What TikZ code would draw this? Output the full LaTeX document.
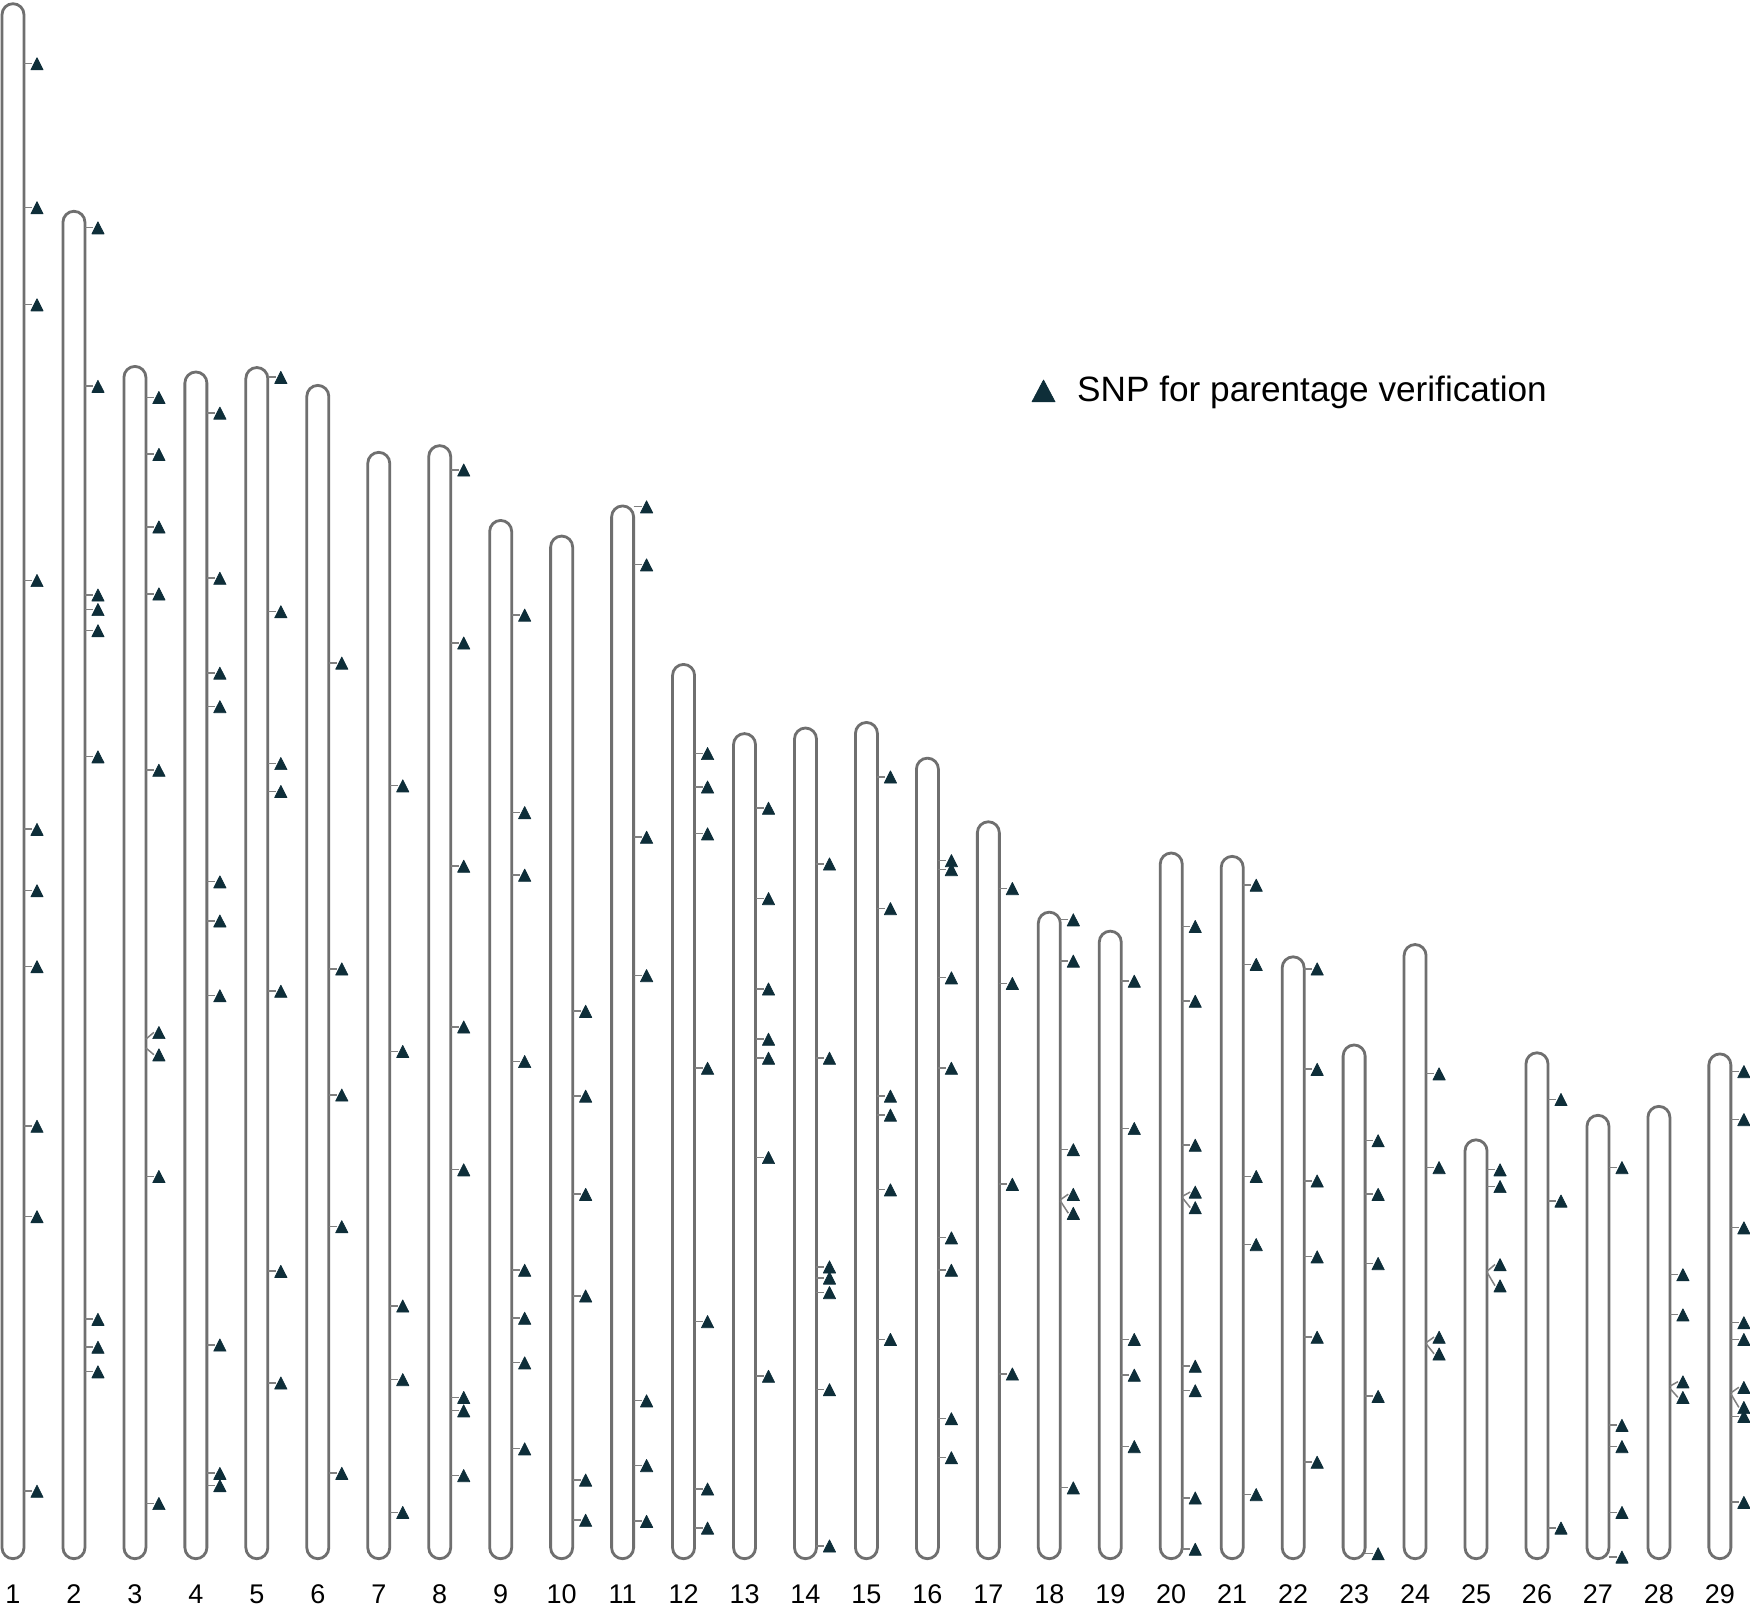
\documentclass[tikz,border=0pt]{standalone}
\usepackage{fontspec}
\setmainfont{Liberation Sans}
\definecolor{chromgray}{HTML}{6F6F6F}
\definecolor{tickgray}{HTML}{808080}
\definecolor{snpfill}{HTML}{0E2E39}
\newcommand\snpmark[3]{%
  \draw[tickline] (#1+9.86,#2) -- (#1+17,#3);
  \filldraw[snp] (#1+21.5,#3-5.3) -- (#1+27,#3+5.6) -- (#1+16,#3+5.6) -- cycle;}
\newcommand\chrsnps[2]{%
  \pgfmathsetmacro\xc{11.65+54.62*(#1-1)}%
  \foreach \yy in {#2}{\snpmark{\xc}{\yy}{\yy}}}
\newcommand\chrsplit[3]{%
  \pgfmathsetmacro\xc{11.65+54.62*(#1-1)}%
  \snpmark{\xc}{#2}{#3}}
\begin{document}
\begin{tikzpicture}[x=1.116pt,y=-1.116pt,
  chrom/.style={draw=chromgray,line width=2.8pt,rounded corners=11pt},
  tickline/.style={draw=tickgray,line width=1.5pt},
  snp/.style={fill=snpfill,draw=snpfill,line width=0.7pt,line join=round},
  num/.style={font=\fontsize{27}{32}\selectfont,anchor=base,inner sep=0pt},
  legtext/.style={font=\fontsize{35.2}{42}\selectfont,anchor=base west,inner sep=0pt}]
\fill[white] (0,0) rectangle (1568,1440);
\useasboundingbox (0,0) rectangle (1568,1440);
% chromosomes and numbers
\foreach \i/\top in {1/2,2/188,3/327,4/332,5/328,6/344,7/404,8/398,9/465,10/479,
  11/452,12/594,13/656,14/651,15/646,16/678,17/735,18/816,19/833,20/763,
  21/766,22/856,23/935,24/845,25/1020,26/942,27/998,28/990,29/943}{
  \pgfmathsetmacro\cx{11.65+54.62*(\i-1)}
  \draw[chrom] (\cx-9.86,1396.6) rectangle (\cx+9.86,\top+1.3);
  \node[num] (n\i) at (\cx,1436.8) {\i};
}
% SNP markers (straight ticks)
\chrsnps{1}{57,186,273,520,743,798,866,1009,1090,1336}
\chrsnps{2}{204,346,533,546,565,678,1182,1207,1229}
\chrsnps{3}{356,407,472,532,690,1054,1347}
\chrsnps{4}{370,518,603,633,790,825,892,1205,1320,1331}
\chrsnps{5}{338,548,684,709,888,1139,1239}
\chrsnps{6}{594,868,981,1099,1320}
\chrsnps{7}{704,942,1170,1236,1355}
\chrsnps{8}{421,576,776,920,1048,1252,1264,1322}
\chrsnps{9}{551,728,784,951,1138,1181,1221,1298}
\chrsnps{10}{906,982,1070,1161,1326,1362}
\chrsnps{11}{454,506,750,874,1255,1313,1363}
\chrsnps{12}{675,705,747,957,1184,1334,1369}
\chrsnps{13}{724,805,886,931,948,1037,1233}
\chrsnps{14}{774,948,1135,1145,1158,1245,1385}
\chrsnps{15}{696,814,982,999,1066,1200}
\chrsnps{16}{771,779,876,957,1109,1138,1271,1306}
\chrsnps{17}{796,881,1061,1231}
\chrsnps{18}{824,861,1030,1333}
\chrsnps{19}{879,1011,1200,1232,1296}
\chrsnps{20}{830,897,1026,1224,1246,1342,1388}
\chrsnps{21}{793,864,1054,1115,1339}
\chrsnps{22}{868,958,1058,1126,1198,1310}
\chrsnps{23}{1022,1070,1132,1251,1392}
\chrsnps{24}{962,1046}
\chrsnps{25}{1048,1063}
\chrsnps{26}{985,1076,1369}
\chrsnps{27}{1046,1277,1296,1355,1395}
\chrsnps{28}{1142,1178}
\chrsnps{29}{960,1003,1100,1185,1200,1269,1346}
% SNP markers (displaced, angled ticks)
\chrsplit{3}{931}{925}
\chrsplit{3}{939}{945}
\chrsplit{18}{1075}{1070}
\chrsplit{18}{1076}{1087}
\chrsplit{20}{1072}{1068}
\chrsplit{20}{1073}{1082}
\chrsplit{24}{1203}{1198}
\chrsplit{24}{1204}{1213}
\chrsplit{25}{1139}{1133}
\chrsplit{25}{1140}{1152}
\chrsplit{28}{1242}{1238}
\chrsplit{28}{1244}{1252}
\chrsplit{29}{1248}{1243}
\chrsplit{29}{1249}{1261}
% legend
\fill[snp] (935,340.5) -- (945.3,360) -- (924.7,360) -- cycle;
\node[legtext] (legend) at (965,359.5) {SNP for parentage verification};
\end{tikzpicture}
\end{document}
